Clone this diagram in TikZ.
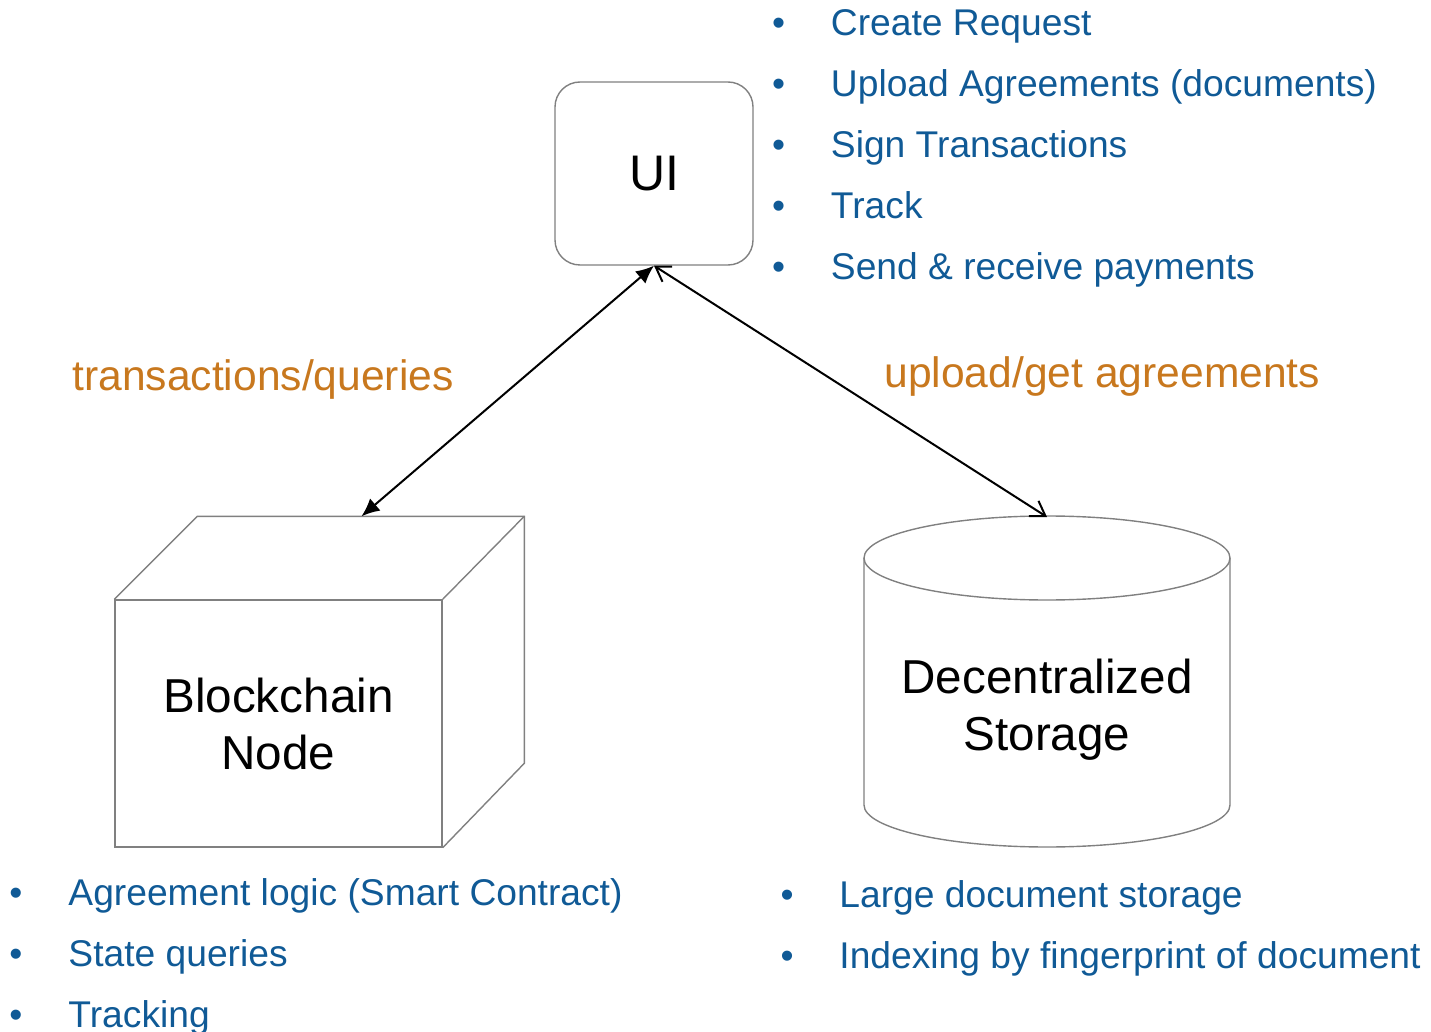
\documentclass[tikz,border=0pt]{standalone}
\usepackage{fontspec}
\setmainfont{Liberation Sans}
\usetikzlibrary{arrows.meta,positioning}
\definecolor{ItemBlue}{HTML}{105A96}
\definecolor{LabelOrange}{HTML}{C8781E}
\definecolor{EdgeGray}{HTML}{808080}
\newcommand{\itemdot}{\makebox[29.5pt][l]{•}}

\begin{document}
\begin{tikzpicture}[x=0.5pt,y=-0.5pt,
      shapeline/.style={draw=EdgeGray, line width=0.7pt},
      bigtext/.style={font=\fontsize{23.8}{28.5}\selectfont, align=center},
      item/.style={
        inner sep=0pt,
        outer sep=0pt,
        text=ItemBlue,
        font=\fontsize{18.6}{22}\selectfont,
        minimum height=30.5pt,
        text height=13pt,
        text depth=4pt
      },
      edgelabel/.style={text=LabelOrange, font=\fontsize{21.3}{25}\selectfont, inner sep=0pt, anchor=base west},
      solidflow/.style={{Latex[length=9pt,width=8pt]}-{Latex[length=9pt,width=8pt]}, line width=1pt},
      openflow/.style={{Straight Barb[length=7pt,width=9pt]}-{Straight Barb[length=7pt,width=9pt]}, line width=1pt},
      node distance=0pt
    ]
      \useasboundingbox (0,0) rectangle (1431,1032);

      % UI box
      \node[shapeline, rounded corners=12.5pt, minimum width=99pt, minimum height=91.5pt,
            font=\fontsize{25}{30}\selectfont] (ui) at (654,173.5) {UI};

      % blockchain node (cube)
      \node[shapeline, minimum width=163.5pt, minimum height=123.5pt, bigtext] (chain) at (278.5,723.5) {Blockchain\\Node};
      \draw[shapeline] (chain.north west) -- ++(83,-83) coordinate (chain nw)
        -- ++(327,0) coordinate (chain ne) -- ++(0,247) -- (chain.south east);
      \draw[shapeline] (chain.north east) -- (chain ne);
      \coordinate (chain top) at ([shift={(83,-83)}]chain.north);

      % decentralized storage (cylinder)
      \node[bigtext] (store) at (1047,710) {Decentralized\\Storage};
      \draw[shapeline] (1047,558) ellipse [x radius=91.5pt, y radius=21pt];
      \draw[shapeline] (864,558) -- (864,805) arc[start angle=180, end angle=360, x radius=91.5pt, y radius=21pt] -- (1230,558);
      \coordinate (store top) at (1047,517);

      \draw[solidflow] (ui.south) -- (chain top);
      \draw[openflow] (ui.south) -- (store top);

      \node[edgelabel] (txlabel) at (72,391) {transactions/queries};
      \node[edgelabel] (uplabel) at (884,387) {upload/get agreements};

      % UI features
      \node[item, anchor=west] (req) at (772,27) {\itemdot Create Request};
      \node[item, below=of req.south west, anchor=north west] (upl) {\itemdot Upload Agreements (documents)};
      \node[item, below=of upl.south west, anchor=north west] (sign) {\itemdot Sign Transactions};
      \node[item, below=of sign.south west, anchor=north west] (track) {\itemdot Track};
      \node[item, below=of track.south west, anchor=north west] (pay) {\itemdot Send \& receive payments};

      % blockchain features
      \node[item, anchor=west] (logic) at (9.5,896) {\itemdot Agreement logic (Smart Contract)};
      \node[item, below=of logic.south west, anchor=north west] (state) {\itemdot State queries};
      \node[item, below=of state.south west, anchor=north west] (tracking) {\itemdot Tracking};

      % storage features
      \node[item, anchor=west] (large) at (780.5,898) {\itemdot Large document storage};
      \node[item, below=of large.south west, anchor=north west] (index) {\itemdot Indexing by fingerprint of document};
    \end{tikzpicture}
\end{document}
